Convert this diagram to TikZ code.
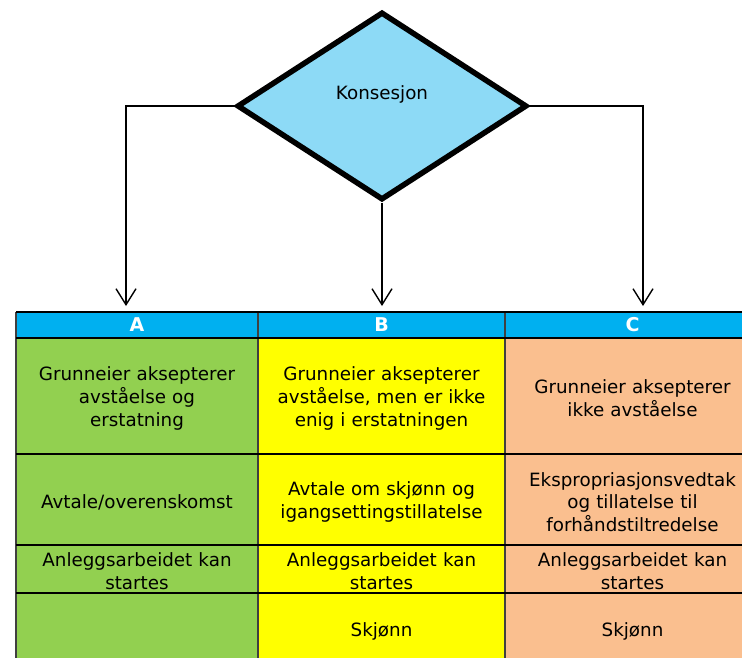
\documentclass[tikz,border=0pt]{standalone}
\usepackage{fontspec}
\setmainfont{DejaVu Sans}
\usetikzlibrary{shapes.geometric,arrows.meta}
\definecolor{dia}{HTML}{8DDAF6}
\definecolor{head}{HTML}{00B0F0}
\definecolor{cg}{HTML}{92D050}
\definecolor{cy}{HTML}{FFFF00}
\definecolor{co}{HTML}{FABF8F}
\definecolor{vline}{HTML}{404040}
\begin{document}
\begin{tikzpicture}[x=1pt,y=-1pt,
  txt/.style={font=\fontsize{18.3}{22.8}\selectfont},
  cellbox/.style={rectangle, anchor=north west, inner sep=0pt, outer sep=0pt, align=center, txt,
    execute at begin node={\rule{0pt}{19pt}}},
  hdr/.style={rectangle, anchor=north west, inner sep=0pt, outer sep=0pt, align=center, fill=head, text=white, font=\fontsize{19}{20}\selectfont\bfseries, minimum height=26pt},
  conn/.style={line width=1.4pt, -{Straight Barb[length=16pt,width=20pt,line width=1.4pt]}},
  hline/.style={line width=2.2pt, black},
  vln/.style={line width=1.5pt, vline}]
\useasboundingbox (0,0) rectangle (742,657);
% diamond
\node[diamond, draw=black, line width=5.5pt, fill=dia, minimum width=290pt, minimum height=188pt, inner sep=0pt,
  label={[txt, yshift=12pt]center:Konsesjon}] (d) at (382,106) {};
\begin{scope}
\clip (0,0) rectangle (742,657);
% headers
\node[hdr, text width=242pt] (hA) at (16,312) {A};
\node[hdr, text width=247pt] (hB) at (258,312) {B};
\node[hdr, text width=255pt] (hC) at (505,312) {C};
% row 1
\node[cellbox, fill=cg, text width=242pt, minimum height=116pt] (a1) at (16,338) {Grunneier aksepterer\\avståelse og\\erstatning};
\node[cellbox, fill=cy, text width=247pt, minimum height=116pt] (b1) at (258,338) {Grunneier aksepterer\\avståelse, men er ikke\\enig i erstatningen};
\node[cellbox, fill=co, text width=255pt, minimum height=116pt] (c1) at (505,338) {Grunneier aksepterer\\ikke avståelse};
% row 2
\node[cellbox, fill=cg, text width=242pt, minimum height=91pt] (a2) at (16,454) {Avtale/overenskomst};
\node[cellbox, fill=cy, text width=247pt, minimum height=91pt] (b2) at (258,454) {Avtale om skjønn og\\igangsettingstillatelse};
\node[cellbox, fill=co, text width=255pt, minimum height=91pt] (c2) at (505,454) {Ekspropriasjonsvedtak\\og tillatelse til\\forhåndstiltredelse};
% row 3
\node[cellbox, fill=cg, text width=242pt, minimum height=48pt] (a3) at (16,545) {Anleggsarbeidet kan\\startes};
\node[cellbox, fill=cy, text width=247pt, minimum height=48pt] (b3) at (258,545) {Anleggsarbeidet kan\\startes};
\node[cellbox, fill=co, text width=255pt, minimum height=48pt] (c3) at (505,545) {Anleggsarbeidet kan\\startes};
% row 4
\node[cellbox, fill=cg, text width=242pt, minimum height=72pt] (a4) at (16,593) {};
\node[cellbox, fill=cy, text width=247pt, minimum height=72pt] (b4) at (258,593) {Skjønn};
\node[cellbox, fill=co, text width=255pt, minimum height=72pt] (c4) at (505,593) {Skjønn};
% grid lines
\draw[vln] (hA.north west) -- (a4.south west);
\draw[vln] (hB.north west) -- (b4.south west);
\draw[vln] (hC.north west) -- (c4.south west);
\draw[hline] (hA.north west) -- (hC.north east);
\draw[hline] (a1.north west) -- (c1.north east);
\draw[hline] (a2.north west) -- (c2.north east);
\draw[hline] (a3.north west) -- (c3.north east);
\draw[hline] (a4.north west) -- (c4.north east);
\end{scope}
% connectors
\draw[conn, shorten >=6pt] (d.west) -| (hA.north -| 126,0);
\draw[conn, shorten >=6pt] (d.south) -- (d.south |- hB.north);
\draw[conn, shorten >=6pt] (d.east) -| (hC.north -| 643,0);
\end{tikzpicture}
\end{document}
